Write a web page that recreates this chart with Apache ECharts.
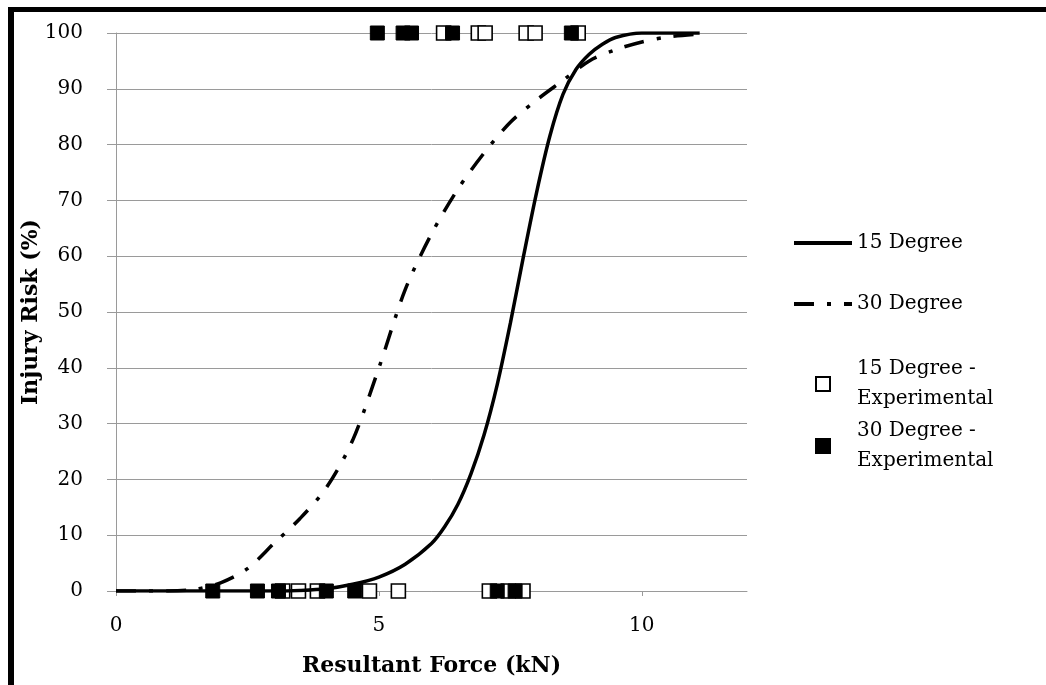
<!DOCTYPE html>
<html>
<head>
<meta charset="utf-8">
<script src="https://cdn.jsdelivr.net/npm/echarts@6/dist/echarts.min.js"></script>
<style>
  html, body { margin: 0; padding: 0; background: #fff; }
  #chart { width: 1046px; height: 685px; }
</style>
</head>
<body>
<div id="chart"></div>
<script>
// fitted risk curves (kN, %)
let solidX = [0, 1, 2, 3, 3.5, 4, 4.5, 5, 5.5, 6, 6.25, 6.5, 6.75, 7, 7.25, 7.5, 7.75, 8, 8.25, 8.5, 8.75, 9, 9.25, 9.5, 10, 10.5, 11.1];
let solidY = [0, 0, 0, 0, 0.1, 0.4, 1.2, 2.5, 4.8, 8.5, 11.5, 15.5, 21, 28, 37, 48, 60, 71.5, 81.5, 89, 93.5, 96.2, 98, 99.2, 100, 100, 100];
let dashX = [0, 1, 1.5, 2, 2.5, 3, 3.5, 4, 4.5, 5, 5.5, 6, 6.5, 7, 7.5, 8, 8.5, 9, 9.5, 10, 10.5, 11.1];
let dashY = [0, 0, 0.3, 1.5, 4, 8.5, 13, 18.5, 27, 40, 54, 64, 72, 78.5, 84, 88, 91.5, 95, 97, 98.4, 99.3, 99.8];

// experimental points: injured (100) / not injured (0)
let exp15Top = [6.23, 6.89, 7.02, 7.80, 7.97, 8.79];
let exp15Bottom = [3.17, 3.47, 3.83, 4.82, 5.37, 7.10, 7.46, 7.74];
let exp30Top = [4.97, 5.46, 5.62, 6.40, 8.66];
let exp30Bottom = [1.84, 2.69, 3.09, 4.00, 4.54, 7.25, 7.59];

let xTicks = [0, 5, 10];
let names = ['15 Degree', '30 Degree', '15 Degree - Experimental', '30 Degree - Experimental'];

function pairs(xs, ys) {
  return xs.map((x, i) => [x, ys[i]]);
}
function flat(xs, v) {
  return xs.map(x => [x, v]);
}

let serif = '"DejaVu Serif", "Liberation Serif", serif';
let legendText = { fontFamily: serif, fontSize: 20, color: '#000', lineHeight: 30 };

let chart = echarts.init(document.getElementById('chart'), null, { renderer: 'canvas' });

let option = {
  backgroundColor: '#fff',
  animation: false,
  legend: [
    {
      data: [names[0]], left: 787, top: 223, itemWidth: 58, itemHeight: 14, itemGap: 5,
      itemStyle: { opacity: 0 }, lineStyle: { width: 4 },
      textStyle: legendText
    },
    {
      data: [names[1]], left: 787, top: 284, itemWidth: 58, itemHeight: 14, itemGap: 5,
      itemStyle: { opacity: 0 }, lineStyle: { width: 4 },
      textStyle: legendText
    },
    {
      data: [{ name: names[2], icon: 'rect' }], left: 810, top: 334, itemWidth: 14, itemHeight: 14,
      formatter: () => '15 Degree -\nExperimental',
      textStyle: Object.assign({}, legendText, { padding: [30, 0, 0, 22] })
    },
    {
      data: [{ name: names[3], icon: 'rect' }], left: 810, top: 396, itemWidth: 14, itemHeight: 14,
      formatter: () => '30 Degree -\nExperimental',
      textStyle: Object.assign({}, legendText, { padding: [30, 0, 0, 22] })
    }
  ],
  grid: { left: 116, top: 33, right: 299, bottom: 94 },
  xAxis: {
    type: 'value',
    min: 0,
    max: 12,
    name: 'Resultant Force (kN)',
    nameLocation: 'middle',
    nameGap: 64,
    nameTextStyle: { fontFamily: serif, fontSize: 22, fontWeight: 'bold', color: '#000' },
    axisLine: { lineStyle: { color: '#9a9a9a', width: 1 } },
    axisTick: { show: true, length: 5, customValues: xTicks, lineStyle: { color: '#9a9a9a' } },
    axisLabel: { customValues: xTicks, margin: 25, fontFamily: serif, fontSize: 20, color: '#000' },
    splitLine: { show: false }
  },
  yAxis: {
    type: 'value',
    min: 0,
    max: 100,
    interval: 10,
    name: 'Injury Risk (%)',
    nameLocation: 'middle',
    nameGap: 74,
    nameMoveOverlap: false,
    nameTextStyle: { fontFamily: serif, fontSize: 22, fontWeight: 'bold', color: '#000' },
    axisLine: { show: true, lineStyle: { color: '#9a9a9a', width: 1 } },
    axisTick: { show: true, length: 9, lineStyle: { color: '#9a9a9a' } },
    axisLabel: { margin: 33, fontFamily: serif, fontSize: 20, color: '#000' },
    splitLine: { lineStyle: { color: '#9a9a9a', width: 1 } }
  },
  series: [
    {
      name: names[2],
      type: 'scatter',
      symbol: 'rect',
      symbolSize: 14,
      itemStyle: { color: '#fff', borderColor: '#000', borderWidth: 1.6, opacity: 1 },
      data: flat(exp15Top, 100).concat(flat(exp15Bottom, 0)),
      z: 3
    },
    {
      name: names[3],
      type: 'scatter',
      symbol: 'rect',
      symbolSize: 14,
      itemStyle: { color: '#000', borderColor: '#000', borderWidth: 1, opacity: 1 },
      data: flat(exp30Top, 100).concat(flat(exp30Bottom, 0)),
      z: 4
    },
    {
      name: names[0],
      type: 'line',
      data: pairs(solidX, solidY),
      smooth: 0.3,
      symbol: 'none',
      color: '#000',
      lineStyle: { color: '#000', width: 3.5 },
      z: 5
    },
    {
      name: names[1],
      type: 'line',
      data: pairs(dashX, dashY),
      smooth: 0.3,
      symbol: 'none',
      color: '#000',
      lineStyle: { color: '#000', width: 3.5, type: [20, 13, 4, 13] },
      z: 5
    }
  ],
  graphic: [
    // black frame on top and left
    { type: 'rect', left: 8, top: 7, shape: { width: 1038, height: 5 }, style: { fill: '#000' } },
    { type: 'rect', left: 8, top: 7, shape: { width: 6, height: 678 }, style: { fill: '#000' } }
  ]
};

chart.setOption(option);
</script>
</body>
</html>
